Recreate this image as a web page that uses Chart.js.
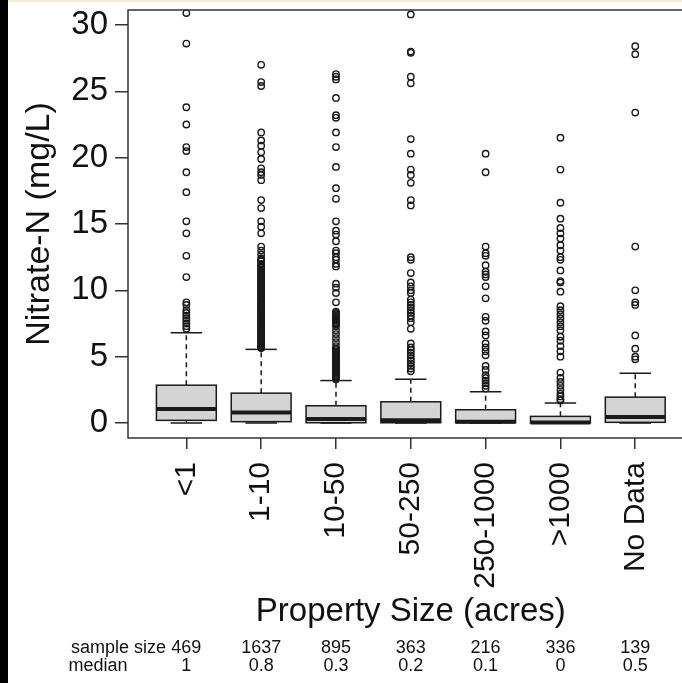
<!DOCTYPE html>
<html>
<head>
<meta charset="utf-8">
<script src="https://cdn.jsdelivr.net/npm/chart.js@4"></script>
<style>
html, body { margin: 0; padding: 0; background: #fff; overflow: hidden; }
</style>
</head>
<body>
<canvas id="nitrateChart" width="699" height="683"></canvas>
<script>
const FONT = "'Liberation Sans', Arial, sans-serif";

// box statistics (mg/L)
const categories = ['<1', '1-10', '10-50', '50-250', '250-1000', '>1000', 'No Data'];
const whiskerLow = [0, 0, 0, 0, 0, 0, 0];
const q1 = [0.2, 0.1, 0.02, 0.02, 0.02, 0.0, 0.05];
const medians = [1.05, 0.8, 0.3, 0.2, 0.1, 0.03, 0.45];
const q3 = [2.85, 2.25, 1.3, 1.6, 1.0, 0.5, 1.95];
const whiskerHigh = [6.8, 5.55, 3.2, 3.3, 2.35, 1.5, 3.75];
const sampleSizes = [469, 1637, 895, 363, 216, 336, 139];
const medianLabels = ['1', '0.8', '0.3', '0.2', '0.1', '0', '0.5'];
const yTicks = [0, 5, 10, 15, 20, 25, 30];

// outliers per category
const outLt1 = [30.9, 28.6, 23.8, 22.5, 20.8, 20.5, 18.9, 17.4, 15.2, 14.3, 12.6, 11.0, 9.1, 8.9,
  8.5, 8.3, 8.1, 7.9, 7.7, 7.5, 7.3, 7.1];
const out1to10 = [27.0, 25.7, 25.4, 21.9, 21.3, 20.9, 20.4, 19.9, 19.2, 18.9, 18.7, 18.3, 16.8, 16.2,
  15.2, 14.8, 14.3, 13.3, 13.0, 12.7, 12.4, 12.3, 12.2, 12.0, 11.9, 11.8, 11.7, 11.6, 11.5, 11.4,
  11.3, 11.2, 11.1, 11.0, 10.9, 10.8, 10.7, 10.6, 10.5, 10.4, 10.3, 10.2, 10.1, 10.0, 9.9, 9.8,
  9.7, 9.6, 9.5, 9.4, 9.3, 9.2, 9.1, 9.0, 8.9, 8.8, 8.7, 8.6, 8.5, 8.4, 8.3, 8.2, 8.1, 8.0, 7.9,
  7.8, 7.7, 7.6, 7.5, 7.4, 7.3, 7.2, 7.1, 7.0, 6.9, 6.8, 6.7, 6.6, 6.5, 6.4, 6.3, 6.2, 6.1, 6.0,
  5.9, 5.8, 5.7, 5.65];
const out10to50 = [26.3, 26.1, 25.9, 24.5, 23.2, 23.0, 21.9, 20.8, 19.3, 17.7, 16.9, 15.2, 14.5, 14.2,
  13.7, 13.0, 12.8, 12.5, 12.3, 12.0, 11.8, 10.5, 10.2, 9.8, 9.1, 8.4, 8.3, 8.2, 8.1, 8.0, 7.9, 7.8,
  7.7, 7.6, 7.5, 7.4, 7.3, 7.0, 6.7, 6.4, 6.1, 5.8, 5.6, 5.5, 5.4, 5.3, 5.2, 5.1, 5.0, 4.9, 4.8,
  4.7, 4.6, 4.5, 4.4, 4.3, 4.2, 4.1, 4.0, 3.9, 3.8, 3.7, 3.6, 3.5, 3.4, 3.3];
const out50to250 = [30.8, 28.0, 27.9, 26.1, 25.6, 21.4, 20.3, 19.1, 18.7, 18.1, 16.8, 16.4, 12.5, 12.3,
  11.3, 10.6, 10.3, 10.0, 9.8, 9.3, 9.1, 8.9, 8.7, 8.5, 8.3, 8.1, 7.9, 7.6, 7.1, 6.0, 5.7, 5.5, 5.3,
  5.1, 4.9, 4.7, 4.5, 4.3, 4.1, 3.9];
const out250to1000 = [20.3, 18.9, 13.3, 12.8, 12.6, 11.9, 11.4, 11.2, 11.0, 10.3, 9.4, 8.0, 7.7, 6.9,
  6.6, 6.0, 5.7, 5.4, 5.1, 4.3, 4.0, 3.6, 3.4, 3.2, 3.0, 2.8, 2.6];
const outGt1000 = [21.5, 19.1, 16.6, 15.4, 14.7, 14.3, 13.9, 13.4, 13.0, 12.5, 12.3, 11.5, 10.7, 10.6,
  9.9, 8.8, 8.5, 8.2, 7.9, 7.6, 7.3, 7.0, 6.5, 6.2, 5.8, 5.4, 5.0, 3.8, 3.4, 3.1, 2.8, 2.5, 2.2,
  2.0, 1.8, 1.7];
const outNoData = [28.4, 27.8, 23.4, 13.3, 10.0, 9.1, 8.9, 6.6, 5.6, 5.0, 4.8];

const outliers = [outLt1, out1to10, out10to50, out50to250, out250to1000, outGt1000, outNoData];

const points = [];
outliers.forEach((list, i) => list.forEach(v => points.push({ x: i + 1, y: v })));

function seg(ctx, x0, y0, x1, y1) {
  ctx.beginPath();
  ctx.moveTo(x0, y0);
  ctx.lineTo(x1, y1);
  ctx.stroke();
}

const backdrop = {
  id: 'backdrop',
  beforeDraw(chart) {
    const ctx = chart.ctx;
    ctx.save();
    ctx.fillStyle = '#fff';
    ctx.fillRect(0, 0, chart.width, chart.height);
    ctx.fillStyle = '#f6eed6';
    ctx.fillRect(0, 0, chart.width, 2);
    ctx.fillStyle = '#000';
    ctx.fillRect(0, 0, 8, chart.height);
    ctx.restore();
  }
};

const boxes = {
  id: 'boxes',
  beforeDatasetsDraw(chart) {
    const { ctx, scales: { x, y } } = chart;
    ctx.save();
    ctx.strokeStyle = '#1a1a1a';
    categories.forEach((c, i) => {
      const pos = i + 1;
      const xc = x.getPixelForValue(pos);
      const bx0 = x.getPixelForValue(pos - 0.4), bx1 = x.getPixelForValue(pos + 0.4);
      const cx0 = x.getPixelForValue(pos - 0.21), cx1 = x.getPixelForValue(pos + 0.21);
      const yLo = y.getPixelForValue(whiskerLow[i]), yHi = y.getPixelForValue(whiskerHigh[i]);
      const yq1 = y.getPixelForValue(q1[i]), yq3 = y.getPixelForValue(q3[i]);
      const yMed = y.getPixelForValue(medians[i]);

      ctx.lineWidth = 1.5;
      ctx.setLineDash([5, 4]);
      seg(ctx, xc, yq3, xc, yHi);
      if (yLo - yq1 > 2) seg(ctx, xc, yq1, xc, yLo);
      ctx.setLineDash([]);
      seg(ctx, cx0, yHi, cx1, yHi);
      seg(ctx, cx0, yLo, cx1, yLo);

      ctx.fillStyle = '#d4d4d4';
      ctx.fillRect(bx0, yq3, bx1 - bx0, yq1 - yq3);
      ctx.strokeRect(bx0, yq3, bx1 - bx0, yq1 - yq3);

      ctx.lineWidth = 4;
      seg(ctx, bx0, yMed, bx1, yMed);
    });
    ctx.restore();
  }
};

const frame = {
  id: 'frame',
  afterDatasetsDraw(chart) {
    const { ctx, chartArea: a } = chart;
    ctx.save();
    ctx.strokeStyle = '#333';
    ctx.lineWidth = 1.5;
    ctx.strokeRect(a.left, a.top, a.right - a.left - 1, a.bottom - a.top);
    ctx.restore();
  }
};

const footer = {
  id: 'footer',
  afterDraw(chart) {
    const { ctx, scales: { x } } = chart;
    ctx.save();
    ctx.fillStyle = '#111';
    ctx.font = '18px ' + FONT;
    ctx.textBaseline = 'middle';
    ctx.textAlign = 'right';
    ctx.fillText('sample size', 166, 648);
    ctx.textAlign = 'center';
    ctx.fillText('median', 98, 666);
    categories.forEach((c, i) => {
      const xc = x.getPixelForValue(i + 1);
      ctx.fillText(String(sampleSizes[i]), xc, 648);
      ctx.fillText(medianLabels[i], xc, 666);
    });
    ctx.restore();
  }
};

new Chart(document.getElementById('nitrateChart'), {
  type: 'scatter',
  data: {
    datasets: [{
      data: points,
      pointRadius: 3.2,
      pointBorderWidth: 1.4,
      pointBorderColor: '#1a1a1a',
      pointBackgroundColor: 'rgba(0,0,0,0)',
      clip: false
    }]
  },
  options: {
    responsive: false,
    animation: false,
    layout: { padding: { left: 8, top: 10, right: 0, bottom: 0 } },
    plugins: { legend: { display: false }, tooltip: { enabled: false } },
    scales: {
      x: {
        type: 'linear',
        min: 0.22,
        max: 7.78,
        afterBuildTicks: s => { s.ticks = categories.map((c, i) => ({ value: i + 1 })); },
        afterFit: s => { s.height = 245; s.paddingLeft = 0; s.paddingRight = 0; },
        border: { display: false },
        grid: { drawOnChartArea: false, drawTicks: true, tickLength: 11, lineWidth: 1.5, color: '#333' },
        ticks: {
          autoSkip: false,
          minRotation: 90,
          maxRotation: 90,
          padding: 13,
          color: '#111',
          font: { family: FONT, size: 30 },
          callback: v => categories[v - 1]
        },
        title: {
          display: true,
          text: 'Property Size (acres)',
          color: '#111',
          font: { family: FONT, size: 33 },
          padding: { top: 0, bottom: 51 }
        }
      },
      y: {
        min: -1.13,
        max: 31.13,
        afterBuildTicks: s => { s.ticks = yTicks.map(v => ({ value: v })); },
        afterFit: s => { s.width = 120; s.paddingTop = 0; s.paddingBottom = 0; },
        border: { display: false },
        grid: { drawOnChartArea: false, drawTicks: true, tickLength: 13, lineWidth: 1.5, color: '#333' },
        ticks: {
          padding: 7,
          color: '#111',
          font: { family: FONT, size: 33 }
        },
        title: {
          display: true,
          text: 'Nitrate-N (mg/L)',
          color: '#111',
          font: { family: FONT, size: 34 },
          padding: { top: 11, bottom: 0 }
        }
      }
    }
  },
  plugins: [backdrop, boxes, frame, footer]
});
</script>
</body>
</html>
